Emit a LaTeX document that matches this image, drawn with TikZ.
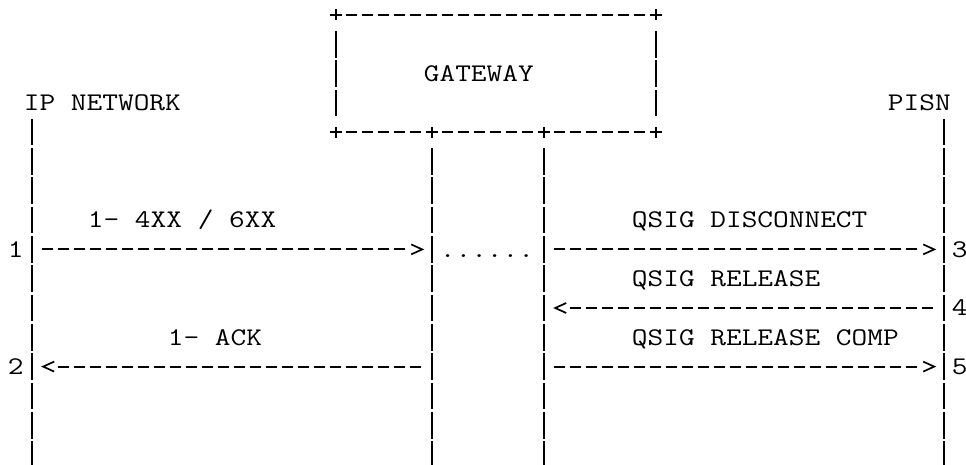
\documentclass[tikz,border=0pt]{standalone}
\usepackage{graphicx}
\usetikzlibrary{calc}

% one character cell of the figure: 16pt wide, one line: 29.3pt high
\newcommand{\wide}[1]{\scalebox{1.2}[1]{#1}}

\tikzset{
  lbl/.style={inner sep=0pt, anchor=base west, xshift=-8pt, yshift=-7.75pt,
    font=\ttfamily\fontsize{25.4}{30}\selectfont},
  pipe/.style={line width=1.8pt, dash pattern=on 26.6pt off 2.7pt},
  dashrow/.style={line width=1.8pt, dash pattern=on 10.5pt off 5.5pt},
  tipR/.pic={\draw[line width=1.7pt] (-11pt,5pt) -- (0,0) -- (-11pt,-5pt);},
  tipL/.pic={\draw[line width=1.7pt] (11pt,5pt) -- (0,0) -- (11pt,-5pt);},
  boxplus/.pic={\draw[line width=1.8pt] (-5.8pt,0) -- (5.8pt,0) (0,-5.5pt) -- (0,5.5pt);}
}

\begin{document}
\begin{tikzpicture}[x=16pt, y=-29.3pt]

    \useasboundingbox (-0.98125,-0.5119) rectangle (59.39375,15.3584);

    % labels
    \node[lbl] (ipnet) at (1,3) {\wide{IP NETWORK}};
    \node[lbl] (pisn) at (55,3) {\wide{PISN}};
    \node[lbl] (gw) at (26,2) {\wide{GATEWAY}};
    \node[lbl] (m1) at (5,7) {\wide{1- 4XX / 6XX}};
    \node[lbl] (m3) at (39,7) {\wide{QSIG DISCONNECT}};
    \node[lbl] (m4) at (39,9) {\wide{QSIG RELEASE}};
    \node[lbl] (m2) at (10,11) {\wide{1- ACK}};
    \node[lbl] (m5) at (39,11) {\wide{QSIG RELEASE COMP}};
    \node[lbl] (n1) at (0,8) {\wide{1}};
    \node[lbl] (n2) at (0,12) {\wide{2}};
    \node[lbl] (n3) at (59,8) {\wide{3}};
    \node[lbl] (n4) at (59,10) {\wide{4}};
    \node[lbl] (n5) at (59,12) {\wide{5}};
    \node[lbl] (dots) at (27,8) {\wide{......}};

    % gateway box
    \coordinate (tl) at (20,0);
    \coordinate (tr) at (40,0);
    \coordinate (bl) at (20,4);
    \coordinate (br) at (40,4);
    \coordinate (jl) at (26,4);
    \coordinate (jr) at (33,4);
    \foreach \p in {tl,tr,bl,br,jl,jr}
        \pic at (\p) {boxplus};
    \draw[dashrow] ([xshift=10.75pt]tl) -- ([xshift=-10.75pt]tr);
    \draw[dashrow] ([xshift=10.75pt]bl) -- ([xshift=-10.75pt]jl);
    \draw[dashrow] ([xshift=10.75pt]jl) -- ([xshift=-10.75pt]jr);
    \draw[dashrow] ([xshift=10.75pt]jr) -- ([xshift=-10.75pt]br);
    \draw[pipe] ([yshift=-16pt]tl) -- ([yshift=16pt]bl);
    \draw[pipe] ([yshift=-16pt]tr) -- ([yshift=16pt]br);

    % lifelines
    \foreach \nm/\c in {ip/1, gl/26, gr/33, ps/58}{
        \coordinate (\nm8) at (\c,8);
        \coordinate (\nm10) at (\c,10);
        \coordinate (\nm12) at (\c,12);
        \coordinate (\nm Z) at (\c,15.4539);
    }
    \coordinate (ipA) at (1,3.5461);
    \coordinate (psA) at (58,3.5461);
    \draw[pipe] (ipA) -- (ipZ);
    \draw[pipe] (psA) -- (psZ);
    \draw[pipe] ([yshift=-16pt]jl) -- (glZ);
    \draw[pipe] ([yshift=-16pt]jr) -- (grZ);

    % messages
    \draw[dashrow] ([xshift=10.75pt]ip8) -- ([xshift=-26.75pt]gl8);
    \pic at ([xshift=-9.5pt]gl8) {tipR};
    \draw[dashrow] ([xshift=10.75pt]gr8) -- ([xshift=-26.75pt]ps8);
    \pic at ([xshift=-9.5pt]ps8) {tipR};
    \draw[dashrow] ([xshift=-10.75pt]ps10) -- ([xshift=26.75pt]gr10);
    \pic at ([xshift=11.5pt]gr10) {tipL};
    \draw[dashrow] ([xshift=-10.75pt]gl12) -- ([xshift=26.75pt]ip12);
    \pic at ([xshift=11.5pt]ip12) {tipL};
    \draw[dashrow] ([xshift=10.75pt]gr12) -- ([xshift=-26.75pt]ps12);
    \pic at ([xshift=-9.5pt]ps12) {tipR};

\end{tikzpicture}
\end{document}
